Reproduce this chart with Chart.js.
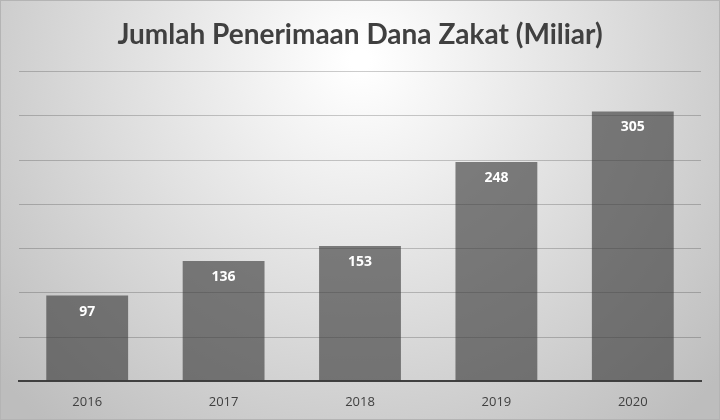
<!DOCTYPE html>
<html><head><meta charset="utf-8">
<script src="https://cdn.jsdelivr.net/npm/chart.js@4/dist/chart.umd.min.js"></script>
<style>html,body{margin:0;padding:0;background:#fff}#wrap{width:720px;height:420px;position:relative}canvas{display:block}</style>
</head><body><div id="wrap"><canvas id="c" width="720" height="420"></canvas></div>
<script>
const years = ["2016","2017","2018","2019","2020"];
const zakat = [97,136,153,248,305];
const titleText = "Jumlah Penerimaan Dana Zakat (Miliar)";

const bgPlugin = {
  id:'bg',
  beforeDraw(chart){
    const {ctx,width,height} = chart;
    ctx.save();
    const g = ctx.createRadialGradient(width/2, 60, 10, width/2, 60, 480);
    g.addColorStop(0,'#ffffff');
    g.addColorStop(1,'#bdbdbd');
    ctx.fillStyle = g;
    ctx.fillRect(0,0,width,height);
    ctx.strokeStyle = '#b4b4b4';
    ctx.lineWidth = 1;
    ctx.strokeRect(0.5,0.5,width-1,height-1);
    ctx.restore();
  }
};
const labelPlugin = {
  id:'lbl',
  afterDatasetsDraw(chart){
    const {ctx} = chart;
    const meta = chart.getDatasetMeta(0);
    ctx.save();
    ctx.fillStyle = '#ffffff';
    ctx.font = 'bold 14px "Open Sans", sans-serif';
    ctx.textAlign = 'center';
    ctx.textBaseline = 'middle';
    meta.data.forEach((bar,i)=>{
      ctx.fillText(String(zakat[i]), bar.x, bar.y + 16);
    });
    ctx.restore();
  }
};

new Chart(document.getElementById('c'), {
  type:'bar',
  data:{labels:years, datasets:[{data:zakat, backgroundColor:'rgba(60,60,60,0.64)', borderWidth:0, barPercentage:0.6, categoryPercentage:1}]},
  options:{
    responsive:false, animation:false,
    layout:{padding:{left:19,right:19,bottom:-3,top:0}},
    plugins:{
      legend:{display:false}, tooltip:{enabled:false},
      title:{display:true,text:titleText,color:'#404040',font:{family:'Lato',size:28,weight:'bold'},padding:{top:18,bottom:20}}
    },
    scales:{
      x:{grid:{display:false,drawTicks:false},border:{display:true,color:'#404040',width:2},
         ticks:{color:'#404040',font:{family:'"Open Sans"',size:13},padding:13}},
      y:{min:0,max:350,ticks:{display:false,stepSize:50},border:{display:false},
         grid:{color:'rgba(0,0,0,0.2)',drawTicks:false,lineWidth:1},
         afterFit(s){s.width=0;}}
    }
  },
  plugins:[bgPlugin,labelPlugin]
});
</script></body></html>
